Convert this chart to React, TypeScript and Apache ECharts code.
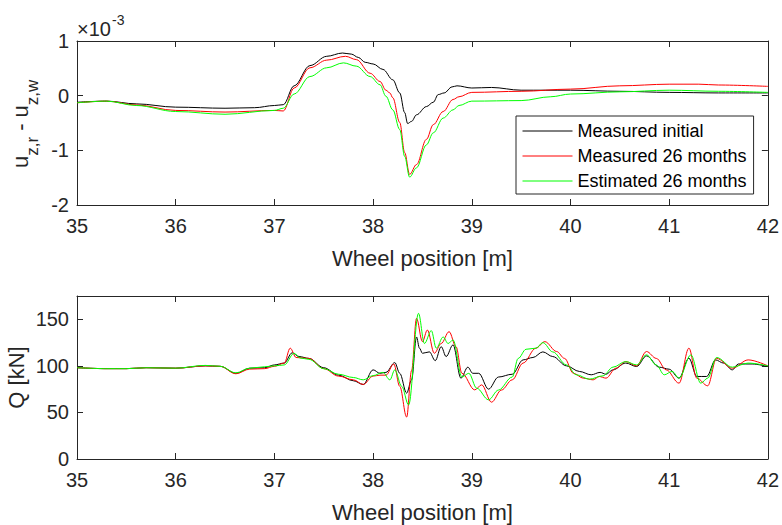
import React, { useEffect, useRef } from 'react';
import * as echarts from 'echarts';

const seriesNames = ['Measured initial', 'Measured 26 months', 'Estimated 26 months'];
const seriesColors = ['#000000', '#ff0000', '#00ff00'];

// Top panel: u_z,r - u_z,w  (x10^-3)
const uInitial: [number, number][] = [
  [35.0, -0.12], [35.3, -0.10], [35.6, -0.15], [36.0, -0.21], [36.5, -0.23], [36.8, -0.22],
  [37.0, -0.18], [37.09, -0.165], [37.2, 0.18], [37.36, 0.55], [37.53, 0.72], [37.69, 0.78],
  [37.78, 0.76], [37.85, 0.70], [37.92, 0.61], [38.0, 0.58], [38.1, 0.48], [38.2, 0.29],
  [38.27, 0.05], [38.32, -0.31], [38.35, -0.51], [38.39, -0.47], [38.44, -0.35], [38.54, -0.20],
  [38.61, -0.12], [38.66, 0.02], [38.72, 0.05], [38.8, 0.16], [38.85, 0.18], [39.0, 0.14],
  [39.2, 0.15], [39.5, 0.10], [40.0, 0.10], [40.5, 0.08], [41.0, 0.06], [41.5, 0.05], [42.0, 0.05],
];
const uMeasured26: [number, number][] = [
  [35.0, -0.13], [35.3, -0.10], [35.6, -0.17], [36.0, -0.27], [36.5, -0.30], [37.0, -0.27],
  [37.09, -0.28], [37.2, 0.14], [37.36, 0.51], [37.53, 0.65], [37.72, 0.72], [37.83, 0.66],
  [37.97, 0.41], [38.07, 0.26], [38.13, 0.10], [38.17, 0.05], [38.2, -0.04], [38.27, -0.49],
  [38.32, -1.04], [38.37, -1.44], [38.44, -1.26], [38.54, -0.80], [38.61, -0.53], [38.71, -0.29],
  [38.81, -0.07], [38.87, -0.02], [39.0, 0.06], [39.5, 0.08], [40.0, 0.12], [40.5, 0.18],
  [41.0, 0.21], [41.3, 0.21], [41.5, 0.195], [42.0, 0.17],
];
const uEstimated26: [number, number][] = [
  [35.0, -0.13], [35.3, -0.10], [35.6, -0.18], [36.0, -0.29], [36.5, -0.34], [37.0, -0.27],
  [37.09, -0.23], [37.2, 0.03], [37.36, 0.35], [37.53, 0.51], [37.70, 0.60], [37.83, 0.54],
  [37.97, 0.35], [38.07, 0.20], [38.13, -0.01], [38.2, -0.26], [38.27, -0.62], [38.32, -1.11],
  [38.37, -1.49], [38.44, -1.32], [38.54, -0.90], [38.61, -0.68], [38.71, -0.41], [38.81, -0.26],
  [38.87, -0.18], [39.0, -0.10], [39.5, -0.09], [39.8, -0.02], [40.0, 0.03], [40.5, 0.07],
  [41.0, 0.10], [41.5, 0.08], [42.0, 0.06],
];

// Bottom panel: Q [kN]
const qInitial: [number, number][] = [
  [35.0, 98], [35.3, 97], [35.5, 97], [35.7, 98], [36.0, 97.5], [36.3, 100], [36.45, 99.5],
  [36.61, 92], [36.75, 97.5], [36.9, 98], [37.0, 101], [37.1, 103], [37.18, 114], [37.25, 110],
  [37.35, 108], [37.5, 98], [37.65, 90], [37.8, 84], [37.9, 80], [38.0, 95.7], [38.07, 92],
  [38.13, 93], [38.22, 103.5], [38.27, 92], [38.34, 70.7], [38.39, 85], [38.44, 131], [38.47, 119],
  [38.5, 113.5], [38.57, 115], [38.63, 105.6], [38.69, 120.6], [38.74, 110], [38.81, 122.5],
  [38.89, 86.8], [38.96, 98.6], [39.01, 92], [39.07, 92], [39.17, 75], [39.27, 88], [39.41, 91],
  [39.52, 106.4], [39.62, 109], [39.72, 115], [39.82, 110], [39.96, 100], [40.09, 94], [40.21, 90.4],
  [40.3, 93], [40.36, 91], [40.43, 95.7], [40.56, 103], [40.67, 99.3], [40.77, 110.7], [40.9, 98.6],
  [41.0, 96.4], [41.1, 86.8], [41.2, 108.2], [41.28, 88.6], [41.38, 88.6], [41.47, 106.4],
  [41.55, 103], [41.64, 95.7], [41.7, 102], [41.84, 102], [42.0, 99.3],
];
const qMeasured26: [number, number][] = [
  [35.0, 98], [35.3, 97], [35.5, 97], [35.7, 98], [36.0, 97.5], [36.3, 100], [36.45, 99.5],
  [36.61, 91.5], [36.75, 96.5], [36.9, 97], [37.0, 99.5], [37.1, 103], [37.16, 119], [37.22, 109],
  [37.35, 108], [37.5, 97], [37.65, 89], [37.8, 85], [37.9, 80], [38.0, 89], [38.07, 90],
  [38.13, 90], [38.21, 102], [38.27, 78], [38.34, 45], [38.39, 95], [38.44, 151], [38.5, 126],
  [38.55, 138.5], [38.62, 113.5], [38.69, 124], [38.77, 136.7], [38.84, 120.6], [38.9, 92],
  [39.03, 74.2], [39.1, 79.6], [39.2, 61], [39.3, 74], [39.41, 85], [39.52, 103], [39.65, 119],
  [39.74, 126], [39.86, 115.4], [39.94, 108], [40.03, 92], [40.13, 86.8], [40.23, 85], [40.29, 88.6],
  [40.36, 86.8], [40.46, 97.5], [40.56, 104.6], [40.67, 100], [40.77, 115.4], [40.87, 108],
  [40.97, 95.7], [41.1, 81.4], [41.2, 119], [41.28, 86.8], [41.39, 78.6], [41.48, 108],
  [41.64, 97.5], [41.8, 106.4], [42.0, 100],
];
const qEstimated26: [number, number][] = [
  [35.0, 98], [35.3, 97], [35.5, 97], [35.7, 98], [36.0, 97.5], [36.3, 100.5], [36.45, 99.5],
  [36.61, 92.5], [36.75, 97.5], [36.9, 99], [37.0, 100], [37.1, 101], [37.2, 113.5], [37.26, 108.5],
  [37.35, 107], [37.5, 97], [37.65, 91], [37.8, 87.5], [37.9, 85], [38.0, 89.5], [38.1, 93],
  [38.17, 85], [38.22, 95.7], [38.29, 78], [38.36, 58], [38.46, 156.4], [38.52, 124], [38.59, 137.8],
  [38.64, 119], [38.71, 131], [38.76, 124], [38.81, 127.8], [38.9, 88], [38.97, 92], [39.05, 76],
  [39.17, 63.5], [39.27, 74], [39.41, 88], [39.47, 108], [39.55, 117.8], [39.65, 119], [39.72, 125],
  [39.82, 115], [39.96, 101], [40.06, 90.4], [40.19, 85.7], [40.33, 89.3], [40.43, 98.6],
  [40.56, 104.6], [40.67, 101], [40.77, 111.8], [40.87, 101], [40.95, 90.4], [41.03, 94],
  [41.1, 86.8], [41.22, 111.8], [41.32, 81.4], [41.39, 86.8], [41.48, 109], [41.64, 98.6],
  [41.8, 103], [42.0, 100],
];

const topData = [uInitial, uMeasured26, uEstimated26];
const bottomData = [qInitial, qMeasured26, qEstimated26];

const FONT = '"Liberation Sans", Arial, sans-serif';
const AX = '#262626';

function xAxisPair(gridIndex: number) {
  const base = {
    type: 'value' as const,
    gridIndex,
    min: 35,
    max: 42,
    interval: 1,
    axisLine: { show: true, onZero: false, lineStyle: { color: AX, width: 1 } },
    axisTick: { show: true, inside: true, length: 6, lineStyle: { color: AX, width: 1 } },
    splitLine: { show: false },
  };
  return [
    {
      ...base,
      position: 'bottom',
      axisLabel: { color: AX, fontSize: 20, fontFamily: FONT, margin: 11 },
      name: 'Wheel position [m]',
      nameLocation: 'middle',
      nameGap: 42,
      nameTextStyle: { color: AX, fontSize: 22, fontFamily: FONT },
    },
    { ...base, position: 'top', axisLabel: { show: false } },
  ];
}

function yAxisPair(gridIndex: number, min: number, max: number, interval: number) {
  const base = {
    type: 'value' as const,
    gridIndex,
    min,
    max,
    interval,
    axisLine: { show: true, onZero: false, lineStyle: { color: AX, width: 1 } },
    axisTick: { show: true, inside: true, length: 6, lineStyle: { color: AX, width: 1 } },
    splitLine: { show: false },
  };
  return [
    {
      ...base,
      position: 'left',
      axisLabel: {
        color: AX,
        fontSize: 20,
        fontFamily: FONT,
        margin: 8,
        showMaxLabel: max % interval === 0,
        formatter: (v: number) => (Math.abs(v % interval) > 1e-9 ? '' : String(v)),
      },
    },
    { ...base, position: 'right', axisLabel: { show: false } },
  ];
}

function buildOption() {
  const series: any[] = [];
  seriesNames.forEach((name, i) => {
    series.push({
      name,
      type: 'line',
      xAxisIndex: 0,
      yAxisIndex: 0,
      data: topData[i],
      symbol: 'none',
      smooth: 0.35,
      smoothMonotone: 'x',
      lineStyle: { color: seriesColors[i], width: 1 },
      itemStyle: { color: seriesColors[i] },
      z: 2 + i,
    });
  });
  seriesNames.forEach((name, i) => {
    series.push({
      name,
      type: 'line',
      xAxisIndex: 2,
      yAxisIndex: 2,
      data: bottomData[i],
      symbol: 'none',
      smooth: 0.35,
      smoothMonotone: 'x',
      lineStyle: { color: seriesColors[i], width: 1 },
      itemStyle: { color: seriesColors[i] },
      z: 2 + i,
    });
  });

  const sub = { fill: AX, fontFamily: FONT, align: 'left', verticalAlign: 'middle' };

  return {
    animation: false,
    backgroundColor: '#ffffff',
    textStyle: { fontFamily: FONT },
    grid: [
      { left: 77, top: 41, width: 692, height: 164, containLabel: false },
      { left: 77, top: 296, width: 692, height: 163, containLabel: false },
    ],
    xAxis: [...xAxisPair(0), ...xAxisPair(1)],
    yAxis: [...yAxisPair(0, -2, 1, 1), ...yAxisPair(1, 0, 175, 50)],
    legend: {
      left: 516,
      top: 116,
      orient: 'vertical',
      data: seriesNames,
      itemWidth: 50,
      itemHeight: 20,
      itemGap: 5,
      padding: [5, 7, 3, 6],
      borderColor: AX,
      borderWidth: 1,
      backgroundColor: '#ffffff',
      selectedMode: false,
      itemStyle: { opacity: 0 },
      lineStyle: { width: 1 },
      textStyle: { fontSize: 18, color: '#000000', fontFamily: FONT, lineHeight: 20 },
    },
    graphic: [
      { type: 'text', x: 77, y: 29, style: { ...sub, text: '×10', fontSize: 20 } },
      { type: 'text', x: 112, y: 20, style: { ...sub, text: '-3', fontSize: 14 } },
      {
        type: 'group',
        x: 28,
        y: 168,
        rotation: Math.PI / 2,
        children: [
          { type: 'text', x: 0, y: -7.7, style: { ...sub, text: 'u', fontSize: 22 } },
          { type: 'text', x: 12.2, y: 4, style: { ...sub, text: 'z,r', fontSize: 17 } },
          { type: 'text', x: 37.2, y: -7.7, style: { ...sub, text: '-', fontSize: 22 } },
          { type: 'text', x: 50.6, y: -7.7, style: { ...sub, text: 'u', fontSize: 22 } },
          { type: 'text', x: 62.8, y: 4, style: { ...sub, text: 'z,w', fontSize: 17 } },
        ],
      },
      {
        type: 'text',
        x: 16,
        y: 377.5,
        rotation: Math.PI / 2,
        style: { fill: AX, fontFamily: FONT, fontSize: 22, text: 'Q [kN]', align: 'center', verticalAlign: 'middle' },
      },
    ],
    series,
  };
}

export default function App() {
  const ref = useRef<HTMLDivElement>(null);
  useEffect(() => {
    if (!ref.current) return;
    const chart = echarts.init(ref.current, null, { renderer: 'svg' });
    chart.setOption(buildOption() as any);
    return () => chart.dispose();
  }, []);
  return (
    <div
      ref={ref}
      style={{ position: 'absolute', left: 0, top: 0, width: 782, height: 525, background: '#ffffff' }}
    />
  );
}
